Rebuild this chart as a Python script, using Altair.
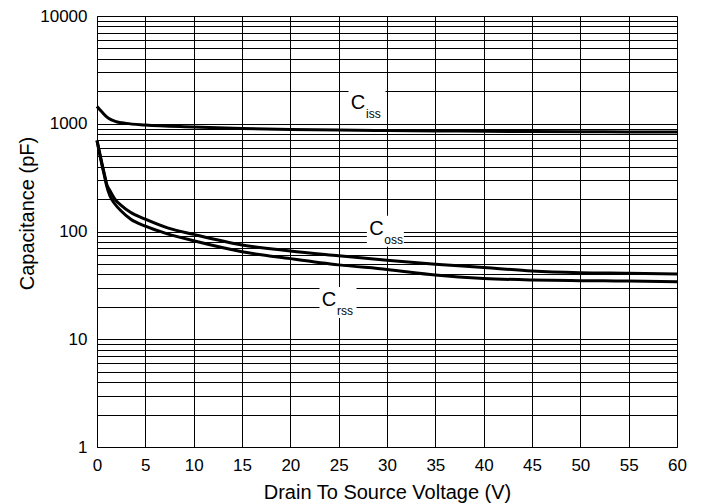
import altair as alt
import pandas as pd

# --- data ---
volts_ciss = [0, 0.5, 1, 1.5, 2, 3, 5, 10, 15, 20, 25, 30, 35, 40, 45, 50, 55, 60]
ciss = [1450, 1290, 1160, 1085, 1045, 1008, 973, 933, 903, 885, 873, 865, 858, 852, 847, 843, 840, 837]

volts_oc = [0, 0.5, 0.8, 1, 1.33, 1.85, 2.5, 3.5, 5, 7.3, 10, 15, 20, 25, 30, 35, 40, 45, 50, 55, 60]
coss = [700, 433, 330, 275, 240, 200, 175, 150, 130, 108, 94, 75, 66, 59.6, 54, 49.6, 46.4, 43, 41.5, 41, 40.3]
crss = [700, 420, 320, 265, 215, 180, 155, 130, 112, 95, 82, 65, 56, 49, 44.5, 39.5, 36.7, 35.5, 35, 34.7, 34.2]

x_ticks = list(range(0, 61, 5))
decades = [1, 10, 100, 1000]
y_grid = [m * d for d in decades for m in range(1, 10)] + [10000]
y_labels = [1, 10, 100, 1000, 10000]

label_main = ["C", "C", "C"]
label_sub = ["iss", "oss", "rss"]
label_v = [27.0, 28.9, 24.0]
label_c = [1560, 105, 22.9]

FONT = "Liberation Sans"

rows = []
for v, c in zip(volts_ciss, ciss):
    rows.append({"V": v, "C": c, "series": "Ciss"})
for v, c in zip(volts_oc, coss):
    rows.append({"V": v, "C": c, "series": "Coss"})
for v, c in zip(volts_oc, crss):
    rows.append({"V": v, "C": c, "series": "Crss"})
curves = pd.DataFrame(rows)

labels = pd.DataFrame({"V": label_v, "C": label_c, "main": label_main, "sub": label_sub})

label_expr = "indexof([1,10,100,1000,10000], datum.value) >= 0 ? format(datum.value, 'd') : ''"

x_enc = alt.X(
    "V:Q",
    scale=alt.Scale(domain=[0, 60], nice=False),
    axis=alt.Axis(
        values=x_ticks, grid=True, gridColor="#000", gridWidth=1, gridOpacity=1,
        ticks=False, tickSize=0, labelPadding=10, labelFont=FONT, labelFontSize=17,
        labelColor="#000", domainColor="#000", title="Drain To Source Voltage (V)",
        titleFont=FONT, titleFontSize=20, titleFontWeight="normal", titleColor="#000",
        titleY=51, titleBaseline="alphabetic", labelFlush=False,
    ),
)
y_enc = alt.Y(
    "C:Q",
    scale=alt.Scale(type="log", domain=[1, 10000], nice=False),
    axis=alt.Axis(
        values=y_grid, labelExpr=label_expr, grid=True, gridColor="#000", gridWidth=1,
        gridOpacity=1, ticks=False, tickSize=0, labelPadding=10, labelFont=FONT,
        labelFontSize=17, labelColor="#000", domainColor="#000",
        title="Capacitance (pF)", titleFont=FONT, titleFontSize=20,
        titleFontWeight="normal", titleColor="#000", titleX=-64, titleY=197,
        titleBaseline="alphabetic", titleAngle=-90, labelFlush=False, labelOverlap=False,
    ),
)

lines = alt.Chart(curves).mark_line(
    color="#000", strokeWidth=3, interpolate="monotone"
).encode(x=x_enc, y=y_enc, detail="series:N")

boxes = alt.Chart(labels).mark_rect(
    color="#fff", width=37, height=31, xOffset=9, yOffset=2
).encode(x="V:Q", y="C:Q")

main_text = alt.Chart(labels).mark_text(
    font=FONT, fontSize=20, color="#000", align="center", baseline="middle"
).encode(x="V:Q", y="C:Q", text="main:N")

sub_text = alt.Chart(labels).mark_text(
    font=FONT, fontSize=12, color="#000", align="left", baseline="alphabetic", dx=8, dy=15
).encode(x="V:Q", y="C:Q", text="sub:N")

chart = alt.layer(lines, boxes, main_text, sub_text).properties(
    width=580, height=431,
    autosize=alt.AutoSizeParams(type="none"),
    padding={"left": 89, "top": 8, "right": 22, "bottom": 56},
).configure_view(stroke="#000", strokeWidth=1).configure(background="#fff")

chart.save("out.html", embed_options={"renderer": "svg", "actions": False})
